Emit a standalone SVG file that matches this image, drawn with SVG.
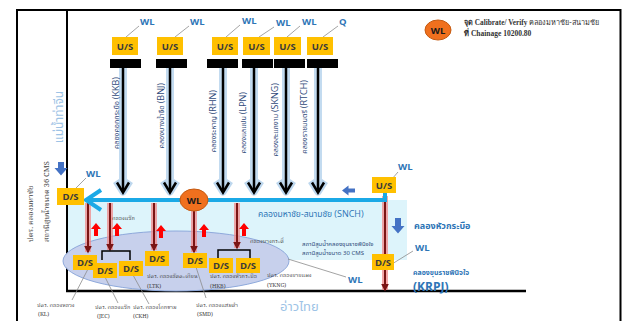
<svg xmlns="http://www.w3.org/2000/svg" width="623" height="321" viewBox="0 0 623 321">
<style>
.box{fill:#FFC000}
.bt{font-family:"Open Sans","Liberation Sans",sans-serif;font-weight:bold;font-size:9.5px;fill:#3A3A3A;text-anchor:middle}
.wl{font-family:"Open Sans","Liberation Sans",sans-serif;font-weight:bold;font-size:9.5px;fill:#2E75B6}
.lead{stroke:#8C8C8C;stroke-width:0.8;fill:none}
.th{font-family:"Noto Sans Thai","Noto Sans","DejaVu Sans",sans-serif}
.vl{fill:#2F4A7A}
.ths{font-size:7.2px}
.lat{font-family:"Open Sans","Liberation Sans",sans-serif;font-size:9px}
.sm{font-family:"Noto Serif Thai","Liberation Serif",serif;font-size:5.5px;fill:#404040}
.frame{stroke:#000;stroke-width:2;fill:none}
.rg{stroke:#F08A8A;stroke-width:6;stroke-opacity:0.75;fill:none}
.rc{stroke:#7A1414;stroke-width:2;fill:none}
.blk{fill:#4472C4}
</style>
<defs>
  <g id="ba">
    <path d="M0,68 V191" stroke="#BDD7EE" stroke-width="8" stroke-opacity="0.9"/>
    <path d="M-7,181 L0,192 L7,181" stroke="#BDD7EE" stroke-width="7" fill="none" stroke-linejoin="round"/>
    <path d="M0,68 V192" stroke="#000" stroke-width="2.5"/>
    <path d="M-6,182.5 L0,192.5 L6,182.5" stroke="#000" stroke-width="2.5" fill="none"/>
  </g>
  <marker id="rh" viewBox="0 0 10 10" refX="8" refY="5" markerWidth="4" markerHeight="4" orient="auto" markerUnits="strokeWidth">
    <path d="M0,0 L10,5 L0,10 Z" fill="#7A1414"/>
  </marker>
  <polygon id="up" points="0,0 5,6 2,6 2,13 -2,13 -2,6 -5,6" fill="#FF0000"/>
</defs>

<!-- frame -->
<g id="frame">
  <path class="frame" d="M17,321 V10 H620.5 V321"/>
  <path class="frame" d="M67,10 V291"/>
  <path d="M66,291 H526" stroke="#000" stroke-width="2.5"/>
</g>

<!-- channel background -->
<rect id="snch-area" x="68" y="200" width="339" height="60" fill="#DDF4FB"/>
<ellipse id="coast-area" cx="176" cy="261" rx="113" ry="30" fill="#C7D0EC" stroke="#8EA9DB" stroke-width="1"/>

<!-- connectors -->
<g id="connectors">
  <use href="#ba" x="123"/>
  <use href="#ba" x="170"/>
  <use href="#ba" x="223"/>
  <use href="#ba" x="254"/>
  <use href="#ba" x="286"/>
  <use href="#ba" x="318"/>
  <!-- red outflows -->
  <path class="rg" d="M88,203 V252"/><path class="rc" d="M88,203 V252" marker-end="url(#rh)"/>
  <path class="rg" d="M110,203 V250"/><path class="rc" d="M110,203 V250" marker-end="url(#rh)"/>
  <path class="rg" d="M154,203 V250"/><path class="rc" d="M154,203 V250" marker-end="url(#rh)"/>
  <path class="rg" d="M194,211 V252"/><path class="rc" d="M194,211 V252" marker-end="url(#rh)"/>
  <path class="rg" d="M237,203 V248"/><path class="rc" d="M237,203 V248" marker-end="url(#rh)"/>
  <path class="rg" d="M385,196 V290"/><path class="rc" d="M385,196 V290" marker-end="url(#rh)"/>
  <!-- main SNCH flow -->
  <path d="M385,193 V200 H88" stroke="#1BA9E6" stroke-width="4" fill="none"/>
  <path d="M101,190 L86,200 L101,210" stroke="#1BA9E6" stroke-width="4" fill="none"/>
  <!-- brackets -->
  <path d="M102,260 V251 H130 V260" stroke="#000" stroke-width="1.5" fill="none"/>
  <path d="M218,260 V250 H250 V260" stroke="#000" stroke-width="1.5" fill="none"/>
  <!-- red up arrows -->
  <use href="#up" x="96" y="223"/>
  <use href="#up" x="117" y="223"/>
  <use href="#up" x="161" y="225"/>
  <use href="#up" x="204" y="224"/>
  <use href="#up" x="244" y="223"/>
  <!-- blue block arrows -->
  <polygon class="blk" points="58,162 64,162 64,168 67.5,168 61,175.5 54.5,168 58,168"/>
  <polygon class="blk" points="395,218 401,218 401,226 404.5,226 398,233.5 391.5,226 395,226"/>
  <polygon class="blk" points="355,188.5 348.5,188.5 348.5,185.5 342,190.5 348.5,195.5 348.5,192.5 355,192.5"/>
  <!-- leaders -->
  <path class="lead" d="M139,26 L126,37"/>
  <path class="lead" d="M189,26 L175,37"/>
  <path class="lead" d="M240,25 L226,37"/>
  <path class="lead" d="M274,27 L259,37"/>
  <path class="lead" d="M300,26 L287,37"/>
  <path class="lead" d="M338,26 L323,37"/>
  <path class="lead" d="M86,178 L76,188"/>
  <path class="lead" d="M398,172 L392,179"/>
  <path class="lead" d="M413,251 L392,264"/>
  <path class="lead" d="M288,259 L346,277"/>
  <path class="lead" d="M88,269 L72,300"/>
  <path class="lead" d="M105,277 L118,303"/>
  <path class="lead" d="M133,275 L149,304"/>
  <path class="lead" d="M196,267 L206,298"/>
</g>

<!-- upstream nodes -->
<g id="us-kkb"><rect x="110" y="59" width="31" height="9" fill="#000"/><rect class="box" x="112" y="37" width="26" height="18"/><text class="bt" x="125" y="50">U/S</text><text class="wl" x="140" y="25">WL</text></g>
<g id="us-bnj"><rect x="156" y="59" width="31" height="9" fill="#000"/><rect class="box" x="157" y="37" width="26" height="18"/><text class="bt" x="170" y="50">U/S</text><text class="wl" x="190" y="25">WL</text></g>
<g id="us-rhn"><rect x="207" y="59" width="31" height="9" fill="#000"/><rect class="box" x="212" y="37" width="26" height="18"/><text class="bt" x="225" y="50">U/S</text><text class="wl" x="242" y="24">WL</text></g>
<g id="us-lpn"><rect x="242" y="59" width="31" height="9" fill="#000"/><rect class="box" x="243" y="37" width="27" height="18"/><text class="bt" x="256.5" y="50">U/S</text><text class="wl" x="276" y="26">WL</text></g>
<g id="us-skng"><rect x="274" y="59" width="31" height="9" fill="#000"/><rect class="box" x="274" y="37" width="27" height="18"/><text class="bt" x="287.5" y="50">U/S</text><text class="wl" x="302" y="25">WL</text></g>
<g id="us-rtch"><rect x="307" y="59" width="31" height="9" fill="#000"/><rect class="box" x="307" y="37" width="26" height="18"/><text class="bt" x="320" y="50">U/S</text><text class="wl" x="339" y="25">Q</text></g>

<!-- canal labels -->
<g id="canal-labels" class="th vl">
  <text transform="translate(119,77) rotate(-90)" text-anchor="end"><tspan class="ths">คลองคอกกระบือ </tspan><tspan class="lat">(KKB)</tspan></text>
  <text transform="translate(164,83) rotate(-90)" text-anchor="end"><tspan class="ths">คลองบางน้ำจืด </tspan><tspan class="lat">(BNJ)</tspan></text>
  <text transform="translate(216,90) rotate(-90)" text-anchor="end"><tspan class="ths">คลองระหาญ </tspan><tspan class="lat">(RHN)</tspan></text>
  <text transform="translate(246,92) rotate(-90)" text-anchor="end"><tspan class="ths">คลองแลแปน </tspan><tspan class="lat">(LPN)</tspan></text>
  <text transform="translate(278,83) rotate(-90)" text-anchor="end"><tspan class="ths">คลองสะแกงาม </tspan><tspan class="lat">(SKNG)</tspan></text>
  <text transform="translate(307,80) rotate(-90)" text-anchor="end"><tspan class="ths">คลองราชมนตรี </tspan><tspan class="lat">(RTCH)</tspan></text>
</g>

<!-- left side -->
<g id="tachin">
  <text class="th" transform="translate(63,117) rotate(-90)" text-anchor="middle" font-size="12" fill="#9DC3E6">แม่น้ำท่าจีน</text>
  <text class="sm" transform="translate(33,242) rotate(-90)" style="font-size:7.5px">ปตร. คลองมหาชัย</text>
  <text class="sm" transform="translate(49,242) rotate(-90)" style="font-size:7.5px">สถานีสูบน้ำขนาด 36 CMS</text>
</g>
<g id="ds-mahachai"><rect class="box" x="57" y="188" width="27" height="17"/><text class="bt" x="70.5" y="200">D/S</text><text class="wl" x="86" y="177">WL</text></g>

<!-- calibration point -->
<g id="wl-point"><ellipse cx="194" cy="200" rx="14" ry="11" fill="#F0701E" stroke="#C55A11" stroke-width="1"/><text class="bt" x="194" y="204" style="fill:#1A1A1A">WL</text></g>

<!-- right side -->
<g id="us-snch"><rect class="box" x="372" y="177" width="24" height="16"/><text class="bt" x="384" y="188.5">U/S</text><text class="wl" x="398" y="170">WL</text></g>
<text class="th" x="258" y="217" fill="#2E75B6"><tspan font-size="8.5">คลองมหาชัย-สนามชัย </tspan><tspan class="lat" font-size="12">(SNCH)</tspan></text>
<text class="th" x="414" y="229" font-size="9" font-weight="bold" fill="#2E75B6">คลองหัวกระบือ</text>
<g id="ds-krpj"><rect class="box" x="372" y="254" width="22" height="16"/><text class="bt" x="383" y="265.5">D/S</text><text class="wl" x="415" y="251">WL</text></g>
<text class="th" x="302" y="246" font-size="6" fill="#2F4A7A">สถานีสูบน้ำคลองขุนราชพินิจใจ</text>
<text class="th" x="302" y="255" font-size="6" fill="#2F4A7A">สถานีสูบน้ำขนาด 30 CMS</text>
<text class="th" x="413" y="275" font-size="7" font-weight="bold" fill="#2E75B6">คลองขุนราชพินิจใจ</text>
<text class="wl" x="413" y="291" style="font-size:12px">(KRPJ)</text>
<text class="wl" x="348" y="283">WL</text>
<text class="th" x="280" y="311" font-size="13" fill="#9DC3E6">อ่าวไทย</text>

<!-- small canal names -->
<text class="sm" x="112" y="220">คลองแจ๊ก</text>
<text class="sm" x="250" y="243">คลองบางกระดี่</text>

<!-- downstream gates -->
<g id="ds-kl"><rect class="box" x="73" y="255" width="24" height="15"/><text class="bt" x="85" y="266">D/S</text><text class="sm" x="37" y="307">ปตร. คลองหลวง</text><text class="sm" x="38" y="316">(KL)</text></g>
<g id="ds-jec"><rect class="box" x="93" y="263" width="24" height="15"/><text class="bt" x="105" y="274">D/S</text><text class="sm" x="95" y="309">ปตร. คลองแจ๊ก</text><text class="sm" x="97" y="318">(JEC)</text></g>
<g id="ds-ckh"><rect class="box" x="119" y="261" width="24" height="15"/><text class="bt" x="131" y="272">D/S</text><text class="sm" x="133" y="309">ปตร. คลองโคกขาม</text><text class="sm" x="133" y="318">(CKH)</text></g>
<g id="ds-ltk"><rect class="box" x="145" y="251" width="24" height="15"/><text class="bt" x="157" y="262">D/S</text><text class="sm" x="147" y="278">ปตร. คลองลัดตะเคียน</text><text class="sm" x="147" y="288">(LTK)</text></g>
<g id="ds-smd"><rect class="box" x="183" y="253" width="24" height="15"/><text class="bt" x="195" y="264">D/S</text><text class="sm" x="196" y="307">ปตร. คลองแสมดำ</text><text class="sm" x="197" y="316">(SMD)</text></g>
<g id="ds-hkb"><rect class="box" x="209" y="258" width="24" height="15"/><text class="bt" x="221" y="269">D/S</text><text class="sm" x="210" y="278">ปตร. คลองหัวกระบือ</text><text class="sm" x="210" y="288">(HKB)</text></g>
<g id="ds-ykng"><rect class="box" x="236" y="258" width="24" height="15"/><text class="bt" x="248" y="269">D/S</text><text class="sm" x="267" y="277">ปตร. คลองยายแผง</text><text class="sm" x="267" y="287">(YKNG)</text></g>

<!-- legend -->
<g id="legend">
  <ellipse cx="438" cy="30" rx="13" ry="10" fill="#F0701E" stroke="#C55A11" stroke-width="1"/>
  <text class="bt" x="438" y="33.5" style="fill:#1A1A1A">WL</text>
  <text x="464" y="25" font-family="Liberation Serif,serif" font-size="7.3" font-weight="bold" fill="#333">จุด Calibrate/ Verify <tspan font-weight="normal">คลองมหาชัย-สนามชัย</tspan></text>
  <text x="464" y="36" font-family="Liberation Serif,serif" font-size="7.5" font-weight="bold" fill="#333">ที่ Chainage 10200.80</text>
</g>
</svg>
